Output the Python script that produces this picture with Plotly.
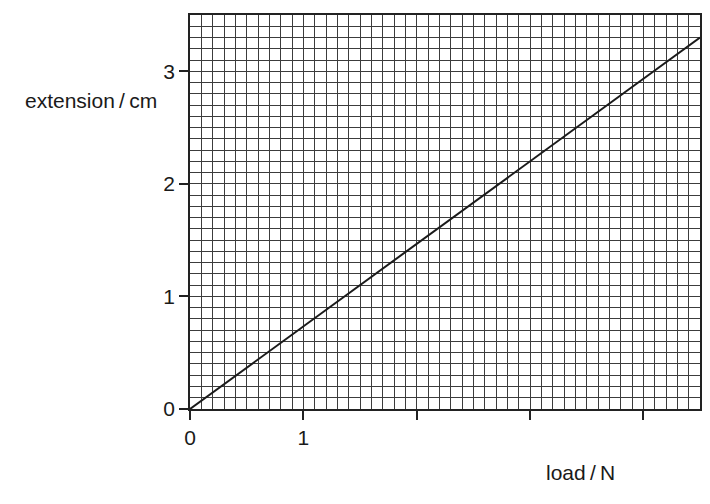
import plotly.graph_objects as go

load_n = [0, 4.5]
extension_cm = [0, 3.3]

x_ticks = [0, 1, 2, 3, 4]
x_tick_text = ["0", "1", "", "", ""]
y_ticks = [0, 1, 2, 3]
y_tick_text = ["0", "1", "2", "3"]

grid_col = "#3c3c3c"
font_family = "Liberation Sans, Arial, sans-serif"

fig = go.Figure(go.Scatter(x=load_n, y=extension_cm, mode="lines",
                           line=dict(color="#1a1a1a", width=2), hoverinfo="skip"))

axis_common = dict(
    showline=True, linecolor="#222", linewidth=1.5, mirror=True,
    showgrid=True, gridcolor=grid_col, gridwidth=1,
    ticks="outside", ticklen=9, tickwidth=2, tickcolor="#222",
    zeroline=False, fixedrange=True,
    tickfont=dict(family=font_family, size=21, color="#1a1a1a"),
    minor=dict(dtick=0.1, showgrid=True, gridcolor=grid_col, gridwidth=1, ticks=""),
)

fig.update_xaxes(range=[0, 4.5], tickmode="array", tickvals=x_ticks, ticktext=x_tick_text,
                 ticklabelstandoff=0, **axis_common)
fig.update_yaxes(range=[0, 3.5], tickmode="array", tickvals=y_ticks, ticktext=y_tick_text,
                 **axis_common)

# the page body adds an 8px offset, so the figure is a little smaller than the window
fig.add_annotation(text="extension\u2009/\u2009cm", xref="paper", yref="paper", x=-0.061, y=0.783,
                   xanchor="right", yanchor="middle", showarrow=False,
                   font=dict(family=font_family, size=21, color="#1a1a1a"))
fig.add_annotation(text="load\u2009/\u2009N", xref="paper", yref="paper", x=0.837, y=-0.162,
                   xanchor="right", yanchor="middle", showarrow=False,
                   font=dict(family=font_family, size=21, color="#1a1a1a"))

fig.update_layout(
    width=702, height=496,
    margin=dict(l=182, r=10, t=5, b=95),
    paper_bgcolor="white", plot_bgcolor="white",
    showlegend=False,
)

fig.write_html("out.html")
